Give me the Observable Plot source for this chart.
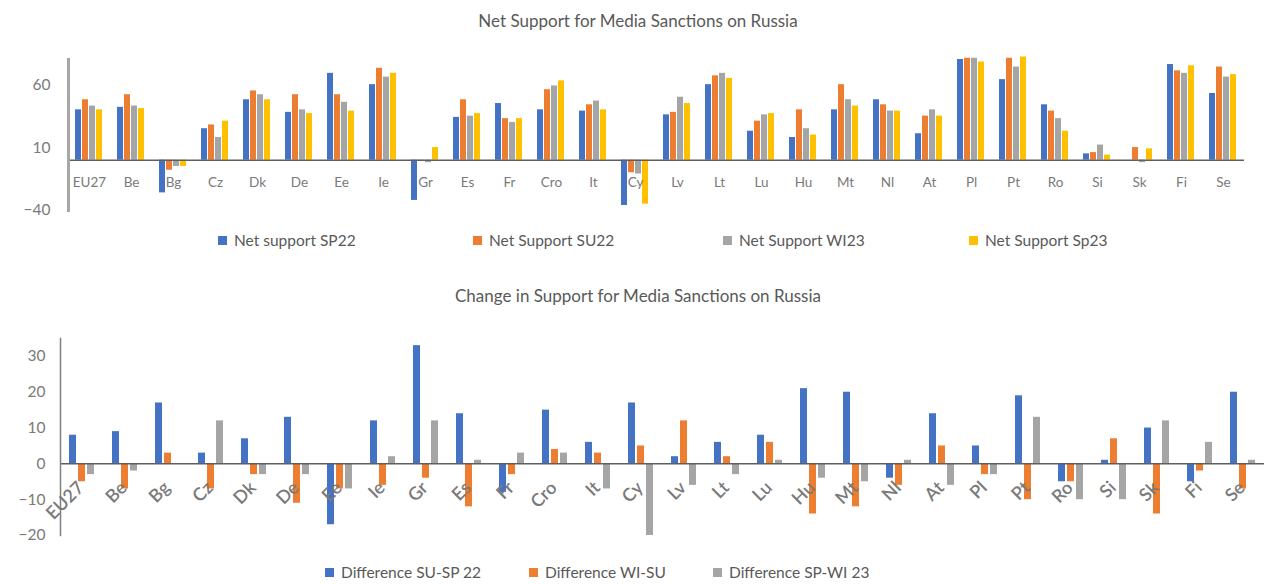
<!DOCTYPE html>
<html>
<head>
<meta charset="utf-8">
<script src="https://cdn.jsdelivr.net/npm/d3@7"></script>
<script src="https://cdn.jsdelivr.net/npm/@observablehq/plot@0.6"></script>
<style>
  html, body { margin: 0; padding: 0; background: #fff; }
  body { width: 1276px; height: 584px; overflow: hidden; position: relative; font-family: Lato, "Open Sans", sans-serif; color: #595959; }
  .blk { position: absolute; left: 0; width: 1276px; }
  .title { text-align: center; font-size: 17px; color: #595959; }
  .legend { font-size: 15.5px; line-height: 22px; color: #595959; }
  .item { position: absolute; top: 0; white-space: nowrap; }
  .sw { display: inline-block; width: 9px; height: 9px; margin-right: 7px; vertical-align: 1px; }
</style>
</head>
<body>
<div id="t1" class="blk title" style="top:10px;">Net Support for Media Sanctions on Russia</div>
<div id="c1" class="blk" style="top:40px;"></div>
<div id="l1" class="blk legend" style="top:229px;"></div>
<div id="t2" class="blk title" style="top:285px;">Change in Support for Media Sanctions on Russia</div>
<div id="c2" class="blk" style="top:320px;"></div>
<div id="l2" class="blk legend" style="top:561px;"></div>
<script>
const countries = ["EU27","Be","Bg","Cz","Dk","De","Ee","Ie","Gr","Es","Fr","Cro","It","Cy","Lv","Lt","Lu","Hu","Mt","Nl","At","Pl","Pt","Ro","Si","Sk","Fi","Se"];

// Top chart: net support
const netSeries = ["Net support SP22","Net Support SU22","Net Support WI23","Net Support Sp23"];
const sp22 = [40,42,-26,25,48,38,69,60,-32,34,45,40,39,-36,36,60,23,18,40,48,21,80,64,44,5,0,76,53];
const su22 = [48,52,-8,28,55,52,52,73,-1,48,33,56,44,-10,38,67,31,40,60,44,35,81,81,39,6,10,71,74];
const wi23 = [43,43,-5,18,52,40,46,66,-2,35,30,59,47,-11,50,69,36,25,48,39,40,81,74,33,12,-2,69,66];
const sp23 = [40,41,-5,31,48,37,39,69,10,37,33,63,40,-35,45,65,37,20,43,39,35,78,82,23,4,9,75,68];
const netTicks = [-40, 10, 60];

// Bottom chart: changes
const diffSeries = ["Difference SU-SP 22","Difference WI-SU","Difference SP-WI 23"];
const d1 = [8,9,17,3,7,13,-17,12,33,14,-8,15,6,17,2,6,8,21,20,-4,14,5,19,-5,1,10,-5,20];
const d2 = [-5,-7,3,-7,-3,-11,-7,-6,-4,-12,-3,4,3,5,12,2,6,-14,-12,-6,5,-3,-10,-5,7,-14,-2,-7];
const d3 = [-3,-2,0,12,-3,-3,-7,2,12,1,3,3,-7,-20,-6,-3,1,-4,-5,1,-6,-3,13,-10,-10,12,6,1];
const diffTicks = [-20,-10,0,10,20,30];

const colors4 = ["#4472C4","#ED7D31","#A5A5A5","#FFC000"];
const colors3 = ["#4472C4","#ED7D31","#A5A5A5"];

function table(series, arrays) {
  const rows = [];
  countries.forEach((c, i) => series.forEach((s, j) => rows.push({country: c, series: s, value: arrays[j][i]})));
  return rows;
}
const netData = table(netSeries, [sp22, su22, wi23, sp23]);
const diffData = table(diffSeries, [d1, d2, d3]);

const font = "Lato, 'Open Sans', sans-serif";
const labelGray = "#7a7a7a";

const chart1 = Plot.plot({
  width: 1276, height: 180,
  marginLeft: 61, marginRight: 25, marginTop: 19, marginBottom: 10,
  style: {fontFamily: font, color: labelGray, background: "transparent", overflow: "visible"},
  fx: {domain: countries, padding: 0, axis: null, label: null},
  x: {domain: netSeries, paddingInner: 0.08, paddingOuter: 0.82, axis: null},
  y: {domain: [-40, 80], axis: null},
  color: {domain: netSeries, range: colors4},
  marks: [
    Plot.barY(netData, {fx: "country", x: "series", y: "value", fill: "series"}),
    Plot.ruleY([0], {stroke: "#5f5f5f", strokeWidth: 1.5}),
    Plot.frame({anchor: "left", facetAnchor: "left", stroke: "#a6a6a6", strokeWidth: 3}),
    Plot.axisY({ticks: netTicks, tickSize: 0, tickPadding: 18, label: null, fontSize: 15.5, fill: labelGray}),
    Plot.text(countries, {fx: d => d, y: d => 0, text: d => d, dy: 23, fontSize: 13.5, fill: labelGray})
  ]
});
document.getElementById("c1").appendChild(chart1);

const chart2 = Plot.plot({
  width: 1276, height: 235,
  marginLeft: 49, marginRight: 2, marginTop: 18, marginBottom: 20,
  style: {fontFamily: font, color: labelGray, background: "transparent", overflow: "visible"},
  fx: {domain: countries, padding: 0, axis: null, label: null},
  x: {domain: diffSeries, paddingInner: 0.25, paddingOuter: 0.94, axis: null},
  y: {domain: [-20, 35], axis: null},
  color: {domain: diffSeries, range: colors3},
  marks: [
    Plot.barY(diffData, {fx: "country", x: "series", y: "value", fill: "series"}),
    Plot.ruleY([0], {stroke: "#5f5f5f", strokeWidth: 1.5}),
    Plot.frame({anchor: "left", facetAnchor: "left", stroke: "#7f7f7f", strokeWidth: 1.5}),
    Plot.axisY({ticks: diffTicks, tickSize: 0, tickPadding: 15, label: null, fontSize: 15.5, fill: labelGray}),
    Plot.text(countries, {fx: d => d, y: d => 0, text: d => d, rotate: -45, textAnchor: "end", dy: 21, dx: -1, fontSize: 18, fontWeight: 600, fill: labelGray})
  ]
});
document.getElementById("c2").appendChild(chart2);

function legend(el, series, colors, lefts) {
  series.forEach((s, i) => {
    const it = document.createElement("span");
    it.className = "item";
    it.style.left = lefts[i] + "px";
    const sw = document.createElement("span");
    sw.className = "sw";
    sw.style.background = colors[i];
    it.appendChild(sw);
    it.appendChild(document.createTextNode(s));
    el.appendChild(it);
  });
}
legend(document.getElementById("l1"), netSeries, colors4, [218, 473, 723, 969]);
legend(document.getElementById("l2"), diffSeries, colors3, [325, 529, 713]);
</script>
</body>
</html>
